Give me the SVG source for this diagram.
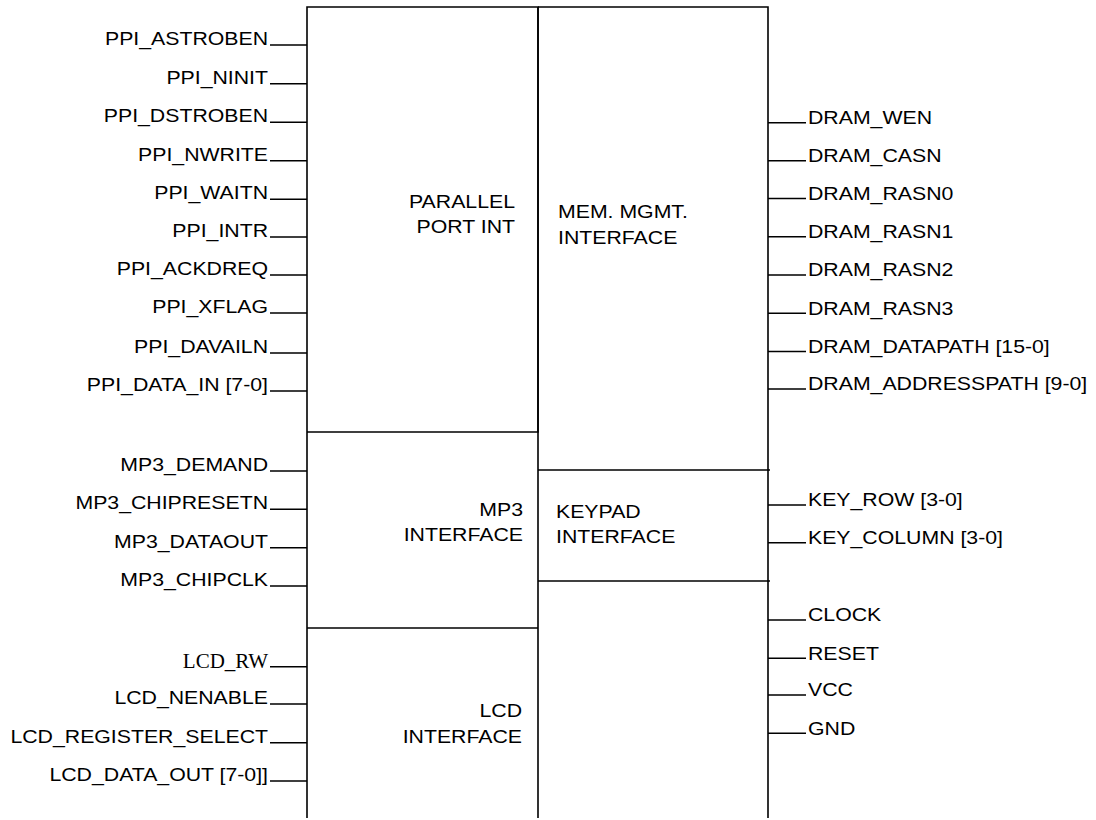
<svg xmlns="http://www.w3.org/2000/svg" width="1096" height="820" viewBox="0 0 1096 820">
<style>
.b{fill:none;stroke:#000;stroke-width:1.6}
.w{stroke:#000;stroke-width:1.5}
text{font-family:"Liberation Sans",Arial,sans-serif;font-size:18.5px;fill:#000}
.l{text-anchor:end}
.r{text-anchor:start}
.s{font-family:"Liberation Serif","Times New Roman",serif;font-size:21px}
</style>
<rect width="1096" height="820" fill="#fff"/>
<g id="parallel-port">
<path class="b" d="M307,818 V7 H538 V432 H307"/>
<text class="l" transform="translate(515,208) scale(1.15,1)">PARALLEL</text>
<text class="l" transform="translate(515,233) scale(1.15,1)">PORT INT</text>
</g>
<g id="mem-mgmt">
<path class="b" d="M538,7 H768 V818 M538,7 V818 M538,470 H770"/>
<text class="r" transform="translate(558,218) scale(1.15,1)">MEM. MGMT.</text>
<text class="r" transform="translate(558,244) scale(1.15,1)">INTERFACE</text>
</g>
<g id="mp3">
<path class="b" d="M307,628 H538"/>
<text class="l" transform="translate(523,516) scale(1.15,1)">MP3</text>
<text class="l" transform="translate(523,541) scale(1.15,1)">INTERFACE</text>
</g>
<g id="keypad">
<path class="b" d="M538,581 H770"/>
<text class="r" transform="translate(556,518) scale(1.15,1)">KEYPAD</text>
<text class="r" transform="translate(556,543) scale(1.15,1)">INTERFACE</text>
</g>
<g id="lcd">
<text class="l" transform="translate(522,717) scale(1.15,1)">LCD</text>
<text class="l" transform="translate(522,743) scale(1.15,1)">INTERFACE</text>
</g>
<g id="power"></g>
<g id="connectors">
<path class="w" d="M270,45H307 M270,83.7H307 M270,122.3H307 M270,160.7H307 M270,199.3H307 M270,237H307 M270,275H307 M270,313H307 M270,353H307 M270,391H307 M270,471H307 M270,509.3H307 M270,547.7H307 M270,586H307 M270,666.7H307 M270,704H307 M270,742.7H307 M270,781H307"/>
<path class="w" d="M768,122.7H806 M768,160.7H806 M768,198.5H806 M768,236.7H806 M768,275H806 M768,313.3H806 M768,351.5H806 M768,389H806 M768,505H806 M768,542.7H806 M768,620H806 M768,658.3H806 M768,695H806 M768,733.3H806"/>
</g>
<g id="pin-labels">
<text class="l" transform="translate(268,45) scale(1.15,1)">PPI_ASTROBEN</text>
<text class="l" transform="translate(268,83.7) scale(1.15,1)">PPI_NINIT</text>
<text class="l" transform="translate(268,122.3) scale(1.15,1)">PPI_DSTROBEN</text>
<text class="l" transform="translate(268,160.7) scale(1.15,1)">PPI_NWRITE</text>
<text class="l" transform="translate(268,199.3) scale(1.15,1)">PPI_WAITN</text>
<text class="l" transform="translate(268,237) scale(1.15,1)">PPI_INTR</text>
<text class="l" transform="translate(268,275) scale(1.15,1)">PPI_ACKDREQ</text>
<text class="l" transform="translate(268,313) scale(1.15,1)">PPI_XFLAG</text>
<text class="l" transform="translate(268,353) scale(1.15,1)">PPI_DAVAILN</text>
<text class="l" transform="translate(268,391) scale(1.15,1)">PPI_DATA_IN [7-0]</text>
<text class="l" transform="translate(268,471) scale(1.15,1)">MP3_DEMAND</text>
<text class="l" transform="translate(268,509.3) scale(1.15,1)">MP3_CHIPRESETN</text>
<text class="l" transform="translate(268,547.7) scale(1.15,1)">MP3_DATAOUT</text>
<text class="l" transform="translate(268,586) scale(1.15,1)">MP3_CHIPCLK</text>
<text class="l s" x="268" y="668">LCD_RW</text>
<text class="l" transform="translate(268,704) scale(1.15,1)">LCD_NENABLE</text>
<text class="l" transform="translate(268,742.7) scale(1.15,1)">LCD_REGISTER_SELECT</text>
<text class="l" transform="translate(268,781) scale(1.15,1)">LCD_DATA_OUT [7-0]]</text>
<text class="r" transform="translate(808,124) scale(1.15,1)">DRAM_WEN</text>
<text class="r" transform="translate(808,162) scale(1.15,1)">DRAM_CASN</text>
<text class="r" transform="translate(808,200) scale(1.15,1)">DRAM_RASN0</text>
<text class="r" transform="translate(808,238) scale(1.15,1)">DRAM_RASN1</text>
<text class="r" transform="translate(808,276.3) scale(1.15,1)">DRAM_RASN2</text>
<text class="r" transform="translate(808,314.6) scale(1.15,1)">DRAM_RASN3</text>
<text class="r" transform="translate(808,352.8) scale(1.15,1)">DRAM_DATAPATH [15-0]</text>
<text class="r" transform="translate(808,390.3) scale(1.15,1)">DRAM_ADDRESSPATH [9-0]</text>
<text class="r" transform="translate(808,506.3) scale(1.15,1)">KEY_ROW [3-0]</text>
<text class="r" transform="translate(808,544) scale(1.15,1)">KEY_COLUMN [3-0]</text>
<text class="r" transform="translate(808,621.3) scale(1.15,1)">CLOCK</text>
<text class="r" transform="translate(808,659.6) scale(1.15,1)">RESET</text>
<text class="r" transform="translate(808,696.3) scale(1.15,1)">VCC</text>
<text class="r" transform="translate(808,734.6) scale(1.15,1)">GND</text>
</g>
</svg>
